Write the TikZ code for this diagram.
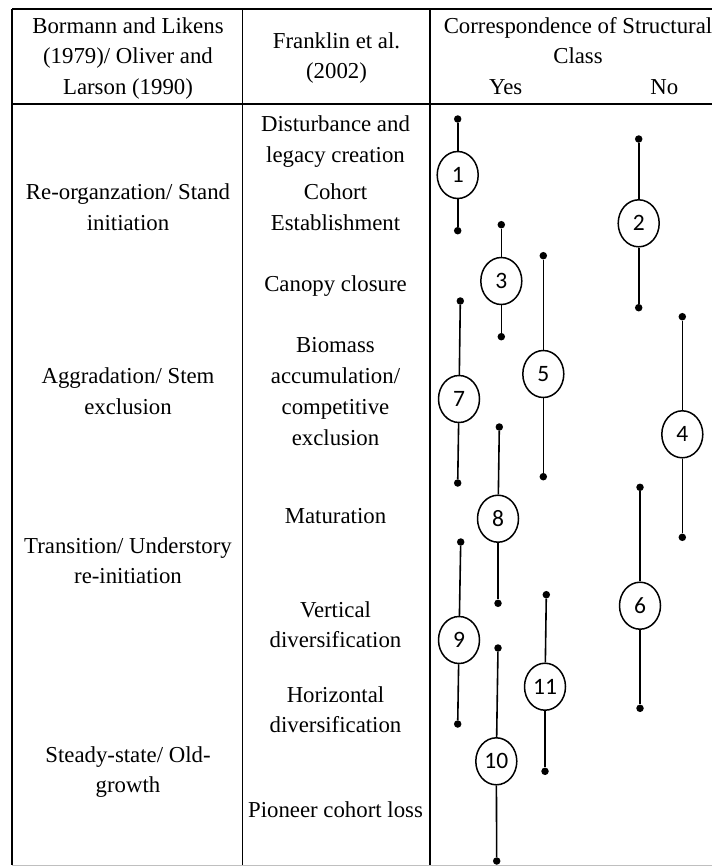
\documentclass[tikz,border=0pt]{standalone}
\usepackage{fontspec}
\setmainfont{Liberation Serif}
\newfontfamily\numfont{Carlito}
\usetikzlibrary{shapes.geometric}
\begin{document}
\begin{tikzpicture}[x=1pt,y=-1pt,
  grid/.style={line width=1.5pt},
  txt/.style={anchor=base,inner sep=0pt,font=\fontsize{22.8}{26}\selectfont},
  stage/.style={ellipse,draw,line width=1.5pt,minimum width=41pt,minimum height=47pt,inner sep=0pt,font=\numfont\fontsize{23.5}{26}\selectfont},
  dot/.style={circle,fill,inner sep=0pt,minimum size=7.5pt},
  link/.style={line width=1.6pt}]
\useasboundingbox (0,0) rectangle (712,867);
% table grid
\coordinate (tl) at (12,9);
\coordinate (tr) at (712,9);
\coordinate (hl) at (12,104);
\coordinate (hr) at (712,104);
\coordinate (bl) at (12,865);
\coordinate (br) at (712,865);
\coordinate (s1t) at (242.7,9);
\coordinate (s1b) at (242.7,865);
\coordinate (s2t) at (430,9);
\coordinate (s2b) at (430,865);
\draw[grid] (tl) -- (tr);
\draw[grid] (hl) -- (hr);
\draw[grid] (tl) -- (bl);
\draw[grid] (s1t) -- (s1b);
\draw[grid] (s2t) -- (s2b);
\draw[line width=1pt,black!25] (bl) -- (br);
% header
\node[txt] (h1a) at (128,33.7) {Bormann and Likens};
\node[txt] (h1b) at (128,63.7) {(1979)/ Oliver and};
\node[txt] (h1c) at (128,94.3) {Larson (1990)};
\node[txt] (h2a) at (336.5,48.7) {Franklin et al.};
\node[txt] (h2b) at (336.5,78.7) {(2002)};
\node[txt] (h3a) at (578,33.7) {Correspondence of Structural};
\node[txt] (h3b) at (578,63.7) {Class};
\node[txt] (yes) at (505.7,94.3) {Yes};
\node[txt] (no) at (664.3,94.3) {No};
% column 1
\node[txt] (a1) at (128,199.7) {Re-organzation/ Stand};
\node[txt] (a2) at (128,230.3) {initiation};
\node[txt] (a3) at (128,383.7) {Aggradation/ Stem};
\node[txt] (a4) at (128,414.3) {exclusion};
\node[txt] (a5) at (128,553) {Transition/ Understory};
\node[txt] (a6) at (128,583.7) {re-initiation};
\node[txt] (a7) at (128,762) {Steady-state/ Old-};
\node[txt] (a8) at (128,792.7) {growth};
% column 2
\node[txt] (f1) at (335.5,131) {Disturbance and};
\node[txt] (f2) at (335.5,162) {legacy creation};
\node[txt] (f3) at (335.5,199.7) {Cohort};
\node[txt] (f4) at (335.5,230.3) {Establishment};
\node[txt] (f5) at (335.5,291.3) {Canopy closure};
\node[txt] (f6) at (335.5,352) {Biomass};
\node[txt] (f7) at (335.5,383.7) {accumulation/};
\node[txt] (f8) at (335.5,414.3) {competitive};
\node[txt] (f9) at (335.5,445.3) {exclusion};
\node[txt] (f10) at (335.5,523) {Maturation};
\node[txt] (f11) at (335.5,617) {Vertical};
\node[txt] (f12) at (335.5,647.7) {diversification};
\node[txt] (f13) at (335.5,702) {Horizontal};
\node[txt] (f14) at (335.5,732.7) {diversification};
\node[txt] (f15) at (335.5,817) {Pioneer cohort loss};
% stages
\node[dot] (t1) at (457.7,119) {};
\node[stage] (c1) at (457.7,175) {1};
\node[dot] (b1) at (457.7,230.7) {};
\node[dot] (t2) at (638.7,139) {};
\node[stage] (c2) at (638.7,223.3) {2};
\node[dot] (b2) at (638.7,307.7) {};
\node[dot] (t3) at (501.3,224.7) {};
\node[stage] (c3) at (501.3,281) {3};
\node[dot] (b3) at (501.3,336.7) {};
\node[dot] (t4) at (682.3,316.7) {};
\node[stage] (c4) at (682.3,434.3) {4};
\node[dot] (b4) at (682.3,537.3) {};
\node[dot] (t5) at (543.3,255.7) {};
\node[stage] (c5) at (543.3,374) {5};
\node[dot] (b5) at (543.3,476.7) {};
\node[dot] (t6) at (640,487.3) {};
\node[stage] (c6) at (640,605.7) {6};
\node[dot] (b6) at (640,708.3) {};
\node[dot] (t7) at (460.3,301) {};
\node[stage] (c7) at (459,399) {7};
\node[dot] (b7) at (457.7,483) {};
\node[dot] (t8) at (499.3,427) {};
\node[stage] (c8) at (498,518.7) {8};
\node[dot] (b8) at (498,603.3) {};
\node[dot] (t9) at (460.7,542) {};
\node[stage] (c9) at (459,640) {9};
\node[dot] (b9) at (457.7,724) {};
\node[dot] (t10) at (498,648) {};
\node[stage] (c10) at (496.3,761.3) {10};
\node[dot] (b10) at (496.7,861) {};
\node[dot] (t11) at (546.3,594.7) {};
\node[stage] (c11) at (545,686.7) {11};
\node[dot] (b11) at (545,771.3) {};
\foreach \i in {1,...,11} {
  \draw[link] (t\i) -- (c\i);
  \draw[link] (c\i) -- (b\i);
}
\end{tikzpicture}
\end{document}
